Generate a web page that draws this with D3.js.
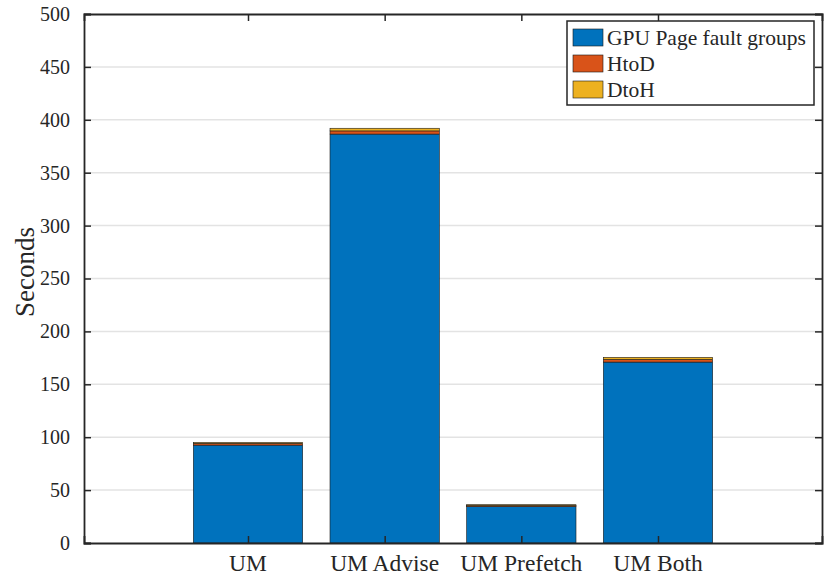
<!DOCTYPE html>
<html>
<head>
<meta charset="utf-8">
<script src="https://cdn.jsdelivr.net/npm/d3@7"></script>
<style>
  body { margin: 0; background: #fff; }
  text { font-family: "Liberation Serif", "DejaVu Serif", serif; fill: #262626; }
</style>
</head>
<body>
<svg id="chart" width="830" height="577"></svg>
<script>
// data
const categories = ["UM", "UM Advise", "UM Prefetch", "UM Both"];
const seriesNames = ["GPU Page fault groups", "HtoD", "DtoH"];
const gpuFaults = [92.5, 386.5, 34.4, 171];
const htod = [1.6, 3, 1.0, 2.5];
const dtoh = [0.9, 2.5, 0.8, 2];
const yTicks = [0, 50, 100, 150, 200, 250, 300, 350, 400, 450, 500];

const colors = ["#0072BD", "#D95319", "#EDB120"];

// general dimensions
const margin = {top: 14, right: 8, bottom: 34, left: 84},
  width = 830 - margin.left - margin.right,
  height = 577 - margin.top - margin.bottom;

const svg = d3.select("#chart");
const g = svg.append("g").attr("transform", `translate(${margin.left},${margin.top})`);

// bars sit at 1..4, limits like matlab
const x = d3.scaleLinear().domain([-0.2, 5.2]).range([0, width]);
const y = d3.scaleLinear().domain([0, 500]).range([height, 0]);
const barW = (x(1) - x(0)) * 0.8;

// grid
g.append("g").selectAll("line")
  .data(yTicks.slice(1, -1))
  .join("line")
    .attr("x1", 0).attr("x2", width)
    .attr("y1", d => y(d)).attr("y2", d => y(d))
    .attr("stroke", "#e3e3e3")
    .attr("stroke-width", 1.5);

// stacked bars
const rows = categories.map((c, i) => ({cat: c, idx: i + 1, s0: gpuFaults[i], s1: htod[i], s2: dtoh[i]}));
const stack = d3.stack().keys(["s0", "s1", "s2"])(rows);

g.append("g").selectAll("g")
  .data(stack)
  .join("g")
    .attr("fill", (d, i) => colors[i])
  .selectAll("rect")
  .data(d => d)
  .join("rect")
    .attr("x", d => x(d.data.idx) - barW / 2)
    .attr("width", barW)
    .attr("y", d => y(d[1]))
    .attr("height", d => y(d[0]) - y(d[1]))
    .attr("stroke", "#1a1a1a")
    .attr("stroke-width", 0.6);

// axes (ticks inward, box)
const axisColor = "#262626";
const yLeft = g.append("g")
  .call(d3.axisLeft(y).tickValues(yTicks).tickSize(-7).tickPadding(14));
const yRight = g.append("g").attr("transform", `translate(${width},0)`)
  .call(d3.axisRight(y).tickValues(yTicks).tickSize(-7).tickFormat(""));
const xBottom = g.append("g").attr("transform", `translate(0,${height})`)
  .call(d3.axisBottom(x).tickValues([1, 2, 3, 4]).tickSize(-7).tickFormat(""));
const xTop = g.append("g")
  .call(d3.axisTop(x).tickValues([1, 2, 3, 4]).tickSize(-7).tickFormat(""));

[yLeft, yRight, xBottom, xTop].forEach(a => {
  a.select(".domain").attr("stroke", axisColor).attr("stroke-width", 1.8);
  a.selectAll(".tick line").attr("stroke", axisColor).attr("stroke-width", 1.5);
});
yLeft.selectAll(".tick text")
  .style("font-family", "Liberation Serif")
  .style("font-size", "20px")
  .attr("fill", axisColor);

// x labels
g.append("g").selectAll("text")
  .data(categories)
  .join("text")
    .attr("x", (d, i) => x(i + 1))
    .attr("y", height + 28)
    .attr("text-anchor", "middle")
    .style("font-size", "23.5px")
    .text(d => d);

// y label
g.append("text")
  .attr("transform", `translate(${-50},${258}) rotate(-90)`)
  .attr("text-anchor", "middle")
  .style("font-size", "27px")
  .text("Seconds");

// legend
const leg = g.append("g").attr("transform", `translate(${567 - margin.left},${21 - margin.top})`);
leg.append("rect")
  .attr("width", 247).attr("height", 84)
  .attr("fill", "#fff")
  .attr("stroke", axisColor)
  .attr("stroke-width", 1.5);
seriesNames.forEach((s, i) => {
  const row = leg.append("g").attr("transform", `translate(6,${8 + i * 26})`);
  row.append("rect")
    .attr("width", 30).attr("height", 17)
    .attr("fill", colors[i])
    .attr("stroke", "#1a1a1a")
    .attr("stroke-width", 0.6);
  row.append("text")
    .attr("x", 34).attr("y", 15.5)
    .style("font-size", "21.5px")
    .text(s);
});
</script>
</body>
</html>
